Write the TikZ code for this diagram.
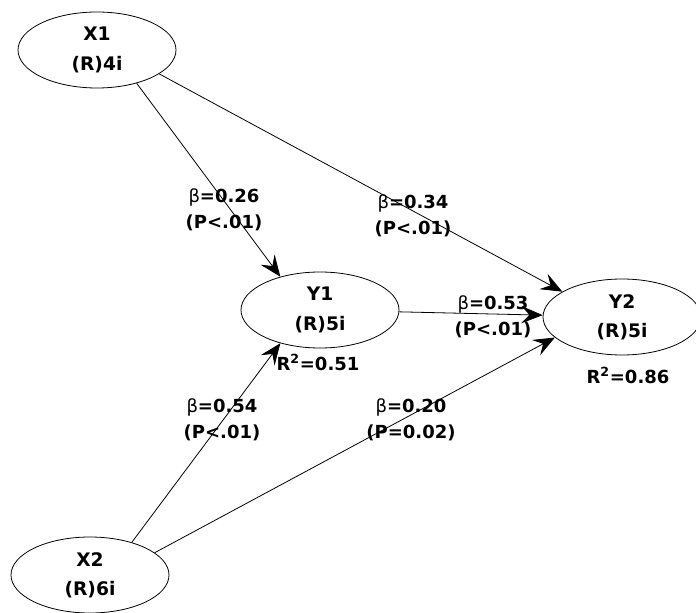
\documentclass[tikz,border=0pt]{standalone}
\usepackage{fontspec}
\setmainfont{DejaVu Sans}
\usetikzlibrary{shapes.geometric,arrows.meta}
\begin{document}
\begin{tikzpicture}[x=0.75pt,y=-0.75pt,
  lv/.style={draw,ellipse,minimum width=158*0.75pt,minimum height=76*0.75pt,inner sep=0pt,font=\bfseries\fontsize{14}{22}\selectfont,align=center,line width=0.6pt},
  lab/.style={font=\bfseries\fontsize{13.5}{19.5}\selectfont,align=center,inner sep=0pt},
  path/.style={line width=0.6pt,-{Stealth[length=16pt,width=13pt,inset=6pt]}}]
\useasboundingbox (0,0) rectangle (696,613);
\node[lv] (X1) at (97,50) {X1\\(R)4i};
\node[lv] (Y1) at (320,310) {Y1\\(R)5i};
\node[lv] (Y2) at (622,317) {Y2\\(R)5i};
\node[lv] (X2) at (90,575) {X2\\(R)6i};
\draw[path] (X1.-40) -- (Y1.140);
\draw[path] (X1.-21) -- (Y2.157);
\draw[path] (Y1) -- (Y2);
\draw[path] (X2.38) -- (Y1.-140);
\draw[path] (X2.19) -- (Y2.-163);
\node[lab] (l1) at (224,210) {{\mdseries β}=0.26\\(P<.01)};
\node[lab] (l2) at (413,216) {{\mdseries β}=0.34\\(P<.01)};
\node[lab] (l3) at (493,317) {{\mdseries β}=0.53\\(P<.01)};
\node[lab] (l4) at (222,420) {{\mdseries β}=0.54\\(P<.01)};
\node[lab] (l5) at (411,420) {{\mdseries β}=0.20\\(P=0.02)};
\node[lab] (r1) at (318,362) {R\textsuperscript{2}=0.51};
\node[lab] (r2) at (628,375) {R\textsuperscript{2}=0.86};
\end{tikzpicture}
\end{document}
